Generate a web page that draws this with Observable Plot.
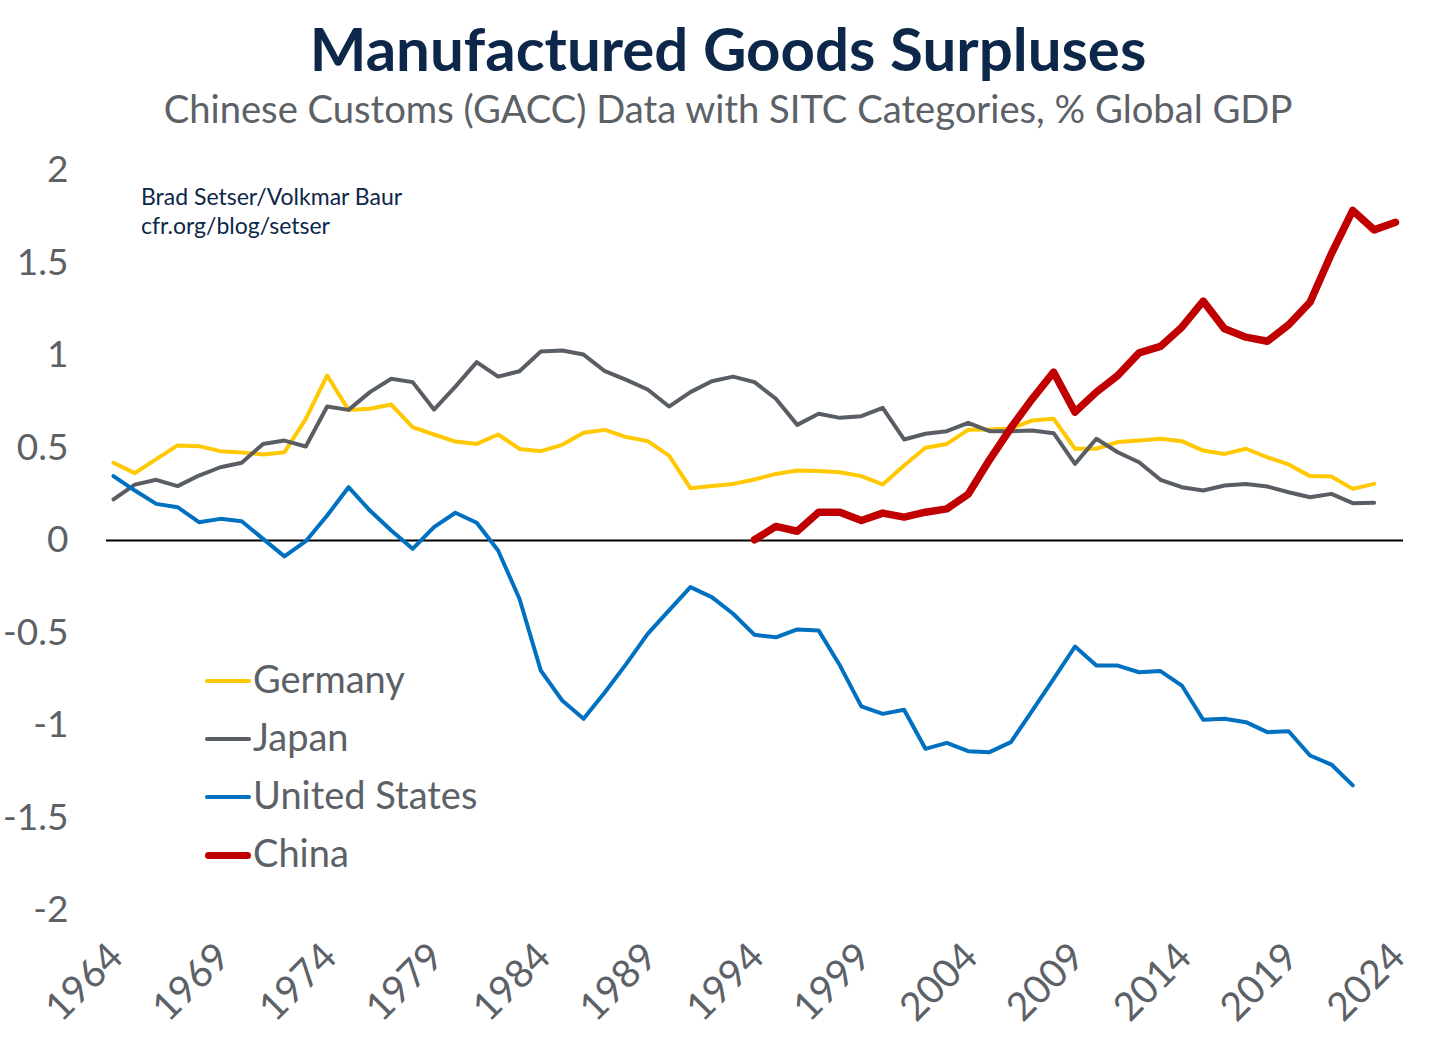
<!DOCTYPE html>
<html>
<head>
<meta charset="utf-8">
<script src="https://cdn.jsdelivr.net/npm/d3@7"></script>
<script src="https://cdn.jsdelivr.net/npm/@observablehq/plot@0.6"></script>
<style>
  body { margin: 0; background: #fff; }
  #wrap { position: relative; width: 1456px; height: 1056px; overflow: hidden; font-family: Lato, "Noto Sans", sans-serif; }
  #title { position: absolute; left: 0; width: 1456px; top: 18px; text-align: center; font-size: 60px; line-height: 1; font-weight: 700; color: #0c2749; }
  #subtitle { position: absolute; left: 0; width: 1456px; top: 89px; text-align: center; font-size: 38.2px; line-height: 1; color: #5c6167; }
  #chart { position: absolute; left: 0; top: 130px; }
  #source { position: absolute; left: 141px; top: 182px; font-size: 23px; line-height: 29px; color: #0c2749; }
  #legend { position: absolute; left: 205px; top: 656px; }
  .row { position: absolute; left: 0; height: 44px; white-space: nowrap; font-size: 38px; line-height: 44px; color: #5c6167; }
  .sw { display: inline-block; width: 46px; vertical-align: middle; border-radius: 4px; margin-right: 2px; position: relative; top: -2px; }
</style>
</head>
<body>
<div id="wrap">
  <div id="title">Manufactured Goods Surpluses</div>
  <div id="subtitle">Chinese Customs (GACC) Data with SITC Categories, % Global GDP</div>
  <div id="chart"></div>
  <div id="source">Brad Setser/Volkmar Baur<br>cfr.org/blog/setser</div>
  <div id="legend"></div>
</div>
<script>
const years = [1964,1965,1966,1967,1968,1969,1970,1971,1972,1973,1974,1975,1976,1977,1978,1979,1980,1981,1982,1983,1984,1985,1986,1987,1988,1989,1990,1991,1992,1993,1994,1995,1996,1997,1998,1999,2000,2001,2002,2003,2004,2005,2006,2007,2008,2009,2010,2011,2012,2013,2014,2015,2016,2017,2018,2019,2020,2021,2022,2023,2024];

// Germany 1964-2023
const germany = [0.42,0.364,0.44,0.514,0.51,0.483,0.476,0.465,0.477,0.657,
  0.892,0.706,0.712,0.735,0.613,0.573,0.535,0.522,0.573,0.495,
  0.483,0.517,0.582,0.598,0.559,0.537,0.459,0.283,0.294,0.306,
  0.33,0.36,0.378,0.376,0.369,0.348,0.303,0.405,0.501,0.522,
  0.598,0.60,0.605,0.649,0.658,0.496,0.496,0.532,0.54,0.55,
  0.537,0.486,0.468,0.496,0.45,0.411,0.348,0.346,0.279,0.306];
// Japan 1964-2023
const japan = [0.222,0.302,0.328,0.294,0.351,0.396,0.42,0.522,0.54,0.508,
  0.724,0.706,0.802,0.874,0.856,0.708,0.832,0.964,0.886,0.915,
  1.022,1.027,1.005,0.915,0.868,0.816,0.724,0.802,0.861,0.886,
  0.856,0.766,0.625,0.685,0.663,0.672,0.717,0.546,0.577,0.591,
  0.636,0.591,0.591,0.595,0.58,0.414,0.55,0.477,0.423,0.328,
  0.288,0.27,0.297,0.306,0.292,0.261,0.234,0.252,0.202,0.204];
// United States 1964-2022
const unitedStates = [0.348,0.27,0.198,0.18,0.099,0.117,0.104,0.009,-0.086,-0.004,
  0.135,0.288,0.162,0.054,-0.045,0.072,0.15,0.096,-0.054,-0.315,
  -0.703,-0.865,-0.964,-0.82,-0.667,-0.505,-0.378,-0.252,-0.306,-0.396,
  -0.51,-0.523,-0.481,-0.486,-0.676,-0.897,-0.937,-0.915,-1.126,-1.094,
  -1.139,-1.144,-1.09,-0.919,-0.748,-0.573,-0.676,-0.676,-0.712,-0.706,
  -0.784,-0.969,-0.964,-0.982,-1.036,-1.031,-1.162,-1.211,-1.324];
// China 1994-2024
const chinaStart = 1994;
const china = [0.004,0.076,0.05,0.153,0.153,0.108,0.148,0.126,0.153,0.171,
  0.25,0.436,0.609,0.766,0.91,0.694,0.802,0.892,1.014,1.049,
  1.153,1.294,1.144,1.099,1.077,1.166,1.288,1.55,1.784,1.679,1.72];

const xTicks = [1964,1969,1974,1979,1984,1989,1994,1999,2004,2009,2014,2019,2024];
const yTicks = [2,1.5,1,0.5,0,-0.5,-1,-1.5,-2];

const seriesNames = ["Germany","Japan","United States","China"];
const seriesColors = ["#FFC800","#595E65","#0070C0","#C00000"];
const seriesWidths = [4,4,4,7.5];

function toRows(values, start) {
  const offset = years.indexOf(start);
  return values.map((v, i) => ({year: years[offset + i], value: v}));
}
const data = [
  toRows(germany, 1964),
  toRows(japan, 1964),
  toRows(unitedStates, 1964),
  toRows(china, chinaStart)
];

const chart = Plot.plot({
  width: 1456,
  height: 926,
  marginLeft: 106,
  marginRight: 53,
  marginTop: 40,
  marginBottom: 146,
  insetLeft: 7,
  insetRight: 8,
  style: {fontFamily: "Lato, 'Noto Sans', sans-serif", fontSize: "36px", color: "#5c6167", background: "transparent"},
  x: {domain: [1964, 2024], label: null},
  y: {domain: [-2, 2], label: null},
  marks: [
    Plot.axisY({ticks: yTicks, tickFormat: d => String(d), tickSize: 0, tickPadding: 38, fontSize: 37, label: null}),
    Plot.axisX({ticks: xTicks, tickFormat: d => String(d), tickRotate: -45, tickSize: 0, tickPadding: 40, dx: 3, fontSize: 39, label: null}),
    Plot.ruleY([0], {stroke: "#000", strokeWidth: 2}),
    ...data.map((rows, i) => Plot.line(rows, {
      x: "year", y: "value",
      stroke: seriesColors[i], strokeWidth: seriesWidths[i],
      strokeLinejoin: "round", strokeLinecap: "round"
    }))
  ]
});
document.getElementById("chart").appendChild(chart);

const legend = document.getElementById("legend");
seriesNames.forEach((name, i) => {
  const row = document.createElement("div");
  row.className = "row";
  row.style.top = (i * 58) + "px";
  const sw = document.createElement("span");
  sw.className = "sw";
  sw.style.height = seriesWidths[i] + "px";
  sw.style.background = seriesColors[i];
  row.appendChild(sw);
  row.appendChild(document.createTextNode(name));
  legend.appendChild(row);
});
</script>
</body>
</html>
